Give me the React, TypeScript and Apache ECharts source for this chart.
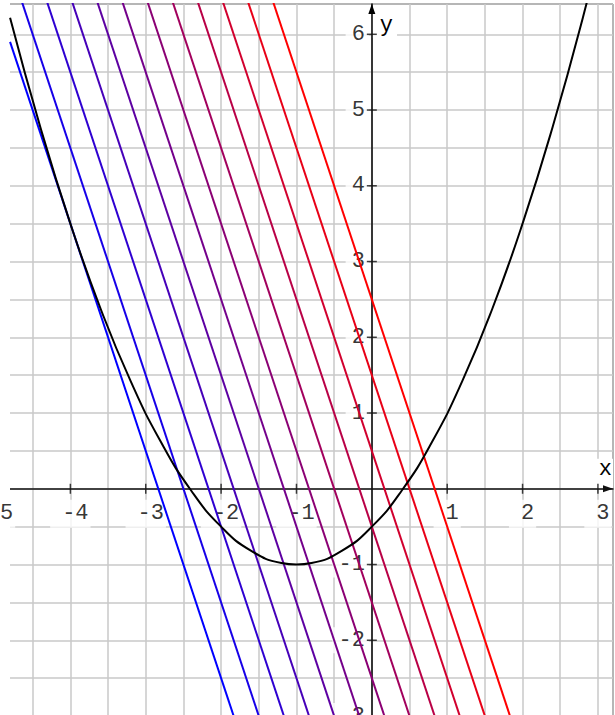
import React, { useEffect, useRef } from "react";
import * as echarts from "echarts";

// Parabola points (vertex at (-1, -1))
const parabolaX = [-4.8, -4.4, -4.0, -3.6, -3.2, -2.8, -2.4, -2.0, -1.6, -1.2, -1.0, -0.8, -0.4, 0, 0.4, 0.8, 1.2, 1.6, 2.0, 2.4, 2.8, 3.2];
const parabolaY = [6.22, 4.78, 3.5, 2.38, 1.42, 0.62, -0.02, -0.5, -0.82, -0.98, -1.0, -0.98, -0.82, -0.5, -0.02, 0.62, 1.42, 2.38, 3.5, 4.78, 6.22, 7.82];

// Twelve parallel lines (blue -> red): start and end points
const lineStartX = [-4.8, -4.7, -4.3667, -4.0333, -3.7, -3.3667, -3.0333, -2.7, -2.3667, -2.0333, -1.7, -1.3667];
const lineStartY = [5.9, 6.6, 6.6, 6.6, 6.6, 6.6, 6.6, 6.6, 6.6, 6.6, 6.6, 6.6];
const lineEndX = [-1.7333, -1.4, -1.0667, -0.7333, -0.4, -0.0667, 0.2667, 0.6, 0.9333, 1.2667, 1.6, 1.9333];
const lineEndY = [-3.3, -3.3, -3.3, -3.3, -3.3, -3.3, -3.3, -3.3, -3.3, -3.3, -3.3, -3.3];

// Tick labels
const xTickLabels = [-5, -4, -3, -2, -1, 1, 2, 3];
const yTickLabels = [-3, -2, -1, 1, 2, 3, 4, 5, 6];

const FONT = "Liberation Mono";
const INK = "#000";

function lineColor(i: number, n: number) {
  const r = Math.round((255 * i) / (n - 1));
  return `rgb(${r},0,${255 - r})`;
}

export default function App() {
  const ref = useRef<HTMLDivElement>(null);
  useEffect(() => {
    if (!ref.current) return;
    const chart = echarts.init(ref.current, undefined, { renderer: "svg" });

    const lineSeries = lineStartX.map((sx, i) => ({
      type: "line",
      data: [
        [sx, lineStartY[i]],
        [lineEndX[i], lineEndY[i]],
      ],
      showSymbol: false,
      silent: true,
      z: 2,
      lineStyle: { color: lineColor(i, lineStartX.length), width: 2 },
    }));

    const labelStyle = {
      show: true,
      fontFamily: FONT,
      fontSize: 22,
      color: INK,
      backgroundColor: "#fff",
    };

    const option: any = {
      animation: false,
      backgroundColor: "#fff",
      grid: {
        left: -5,
        right: 2,
        top: 4,
        bottom: -1,
        outerBoundsMode: "none",
        containLabel: false,
        show: true,
        borderColor: "#000",
        borderWidth: 1,
        backgroundColor: "transparent",
      },
      xAxis: {
        type: "value",
        min: -5,
        max: 3.2,
        interval: 0.5,
        name: "x",
        nameLocation: "end",
        nameGap: 0,
        nameTextStyle: {
          fontFamily: FONT,
          fontSize: 22,
          color: INK,
          align: "right",
          verticalAlign: "bottom",
          padding: [0, 1, 8, 2],
          backgroundColor: "#fff",
        },
        axisLine: {
          onZero: true,
          lineStyle: { color: "#111", width: 1.5 },
          symbol: ["none", "triangle"],
          symbolSize: [7, 10],
          symbolOffset: [0, -5],
        },
        axisTick: { show: false },
        axisLabel: { show: false },
        splitLine: { show: true, lineStyle: { color: "#c8c8c8", width: 1.5 } },
      },
      yAxis: {
        type: "value",
        min: -3,
        max: 6.4,
        interval: 0.5,
        name: "y",
        nameLocation: "end",
        nameGap: -21,
        nameTextStyle: {
          fontFamily: FONT,
          fontSize: 22,
          color: INK,
          align: "left",
          verticalAlign: "middle",
          padding: [2, 4, 2, 8],
          backgroundColor: "#fff",
        },
        axisLine: {
          onZero: true,
          lineStyle: { color: "#000", width: 1.5 },
          symbol: ["none", "triangle"],
          symbolSize: [7, 10],
          symbolOffset: [0, -5],
        },
        axisTick: { show: false },
        axisLabel: { show: false },
        splitLine: { show: true, lineStyle: { color: "#c8c8c8", width: 1.5 } },
      },
      graphic: [
        {
          type: "rect",
          shape: { x: 0, y: 0, width: 10, height: 715 },
          style: { fill: "#fff" },
          silent: true,
          z: 0,
          z2: 5,
        },
      ],
      series: [
        // tick labels of the x axis (placed through the axes' scales)
        {
          type: "scatter",
          data: xTickLabels.map((v) => [v, 0]),
          symbolSize: 0,
          silent: true,
          z: 1,
          label: {
            ...labelStyle,
            position: "bottom",
            distance: 11,
            padding: [3, 2, 3, 12],
            formatter: (p: any) => String(p.value[0]),
          },
        },
        // tick labels of the y axis
        {
          type: "scatter",
          data: yTickLabels.map((v) => [0, v]),
          symbolSize: 0,
          silent: true,
          z: 1,
          label: {
            ...labelStyle,
            position: "left",
            distance: 3,
            padding: [4, 4, 0, 6],
            formatter: (p: any) => String(p.value[1]),
          },
        },
        ...lineSeries,
        {
          type: "line",
          data: parabolaX.map((x, i) => [x, parabolaY[i]]),
          smooth: true,
          showSymbol: false,
          silent: true,
          z: 3,
          lineStyle: { color: "#000", width: 2 },
        },
        {
          type: "scatter",
          data: xTickLabels.map((v) => [v, 0]),
          symbol: "rect",
          symbolSize: [1.5, 10],
          itemStyle: { color: "#111" },
          silent: true,
          z: 4,
        },
        {
          type: "scatter",
          data: yTickLabels.map((v) => [0, v]),
          symbol: "rect",
          symbolSize: [10, 1.5],
          itemStyle: { color: "#111" },
          silent: true,
          z: 4,
        },
      ],
    };
    chart.setOption(option);
    return () => chart.dispose();
  }, []);

  return (
    <div
      ref={ref}
      style={{ position: "absolute", left: 0, top: 0, width: 615, height: 715, background: "#fff" }}
    />
  );
}
